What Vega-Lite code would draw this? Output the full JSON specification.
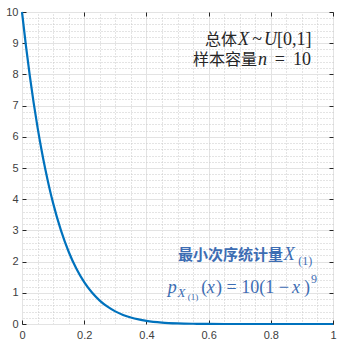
{
  "$schema": "https://vega.github.io/schema/vega-lite/v6.json",
  "width": 311,
  "height": 312,
  "autosize": {"type": "none"},
  "padding": {"left": 22, "top": 12, "right": 4, "bottom": 18},
  "background": "white",
  "config": {
    "view": {"stroke": "#262626", "strokeWidth": 1},
    "axis": {"labelFont": "Liberation Sans", "labelFontSize": 11, "labelColor": "#404040", "title": null}
  },
  "datasets": {
    "curve": [
      {"x": 0, "p": 10}, {"x": 0.0125, "p": 8.930}, {"x": 0.025, "p": 7.962}, {"x": 0.0375, "p": 7.089},
      {"x": 0.05, "p": 6.302}, {"x": 0.0625, "p": 5.594}, {"x": 0.075, "p": 4.958}, {"x": 0.0875, "p": 4.386},
      {"x": 0.1, "p": 3.874}, {"x": 0.125, "p": 3.007}, {"x": 0.15, "p": 2.316}, {"x": 0.175, "p": 1.771},
      {"x": 0.2, "p": 1.342}, {"x": 0.225, "p": 1.009}, {"x": 0.25, "p": 0.751}, {"x": 0.275, "p": 0.554},
      {"x": 0.3, "p": 0.404}, {"x": 0.325, "p": 0.291}, {"x": 0.35, "p": 0.207}, {"x": 0.375, "p": 0.146},
      {"x": 0.4, "p": 0.101}, {"x": 0.45, "p": 0.046}, {"x": 0.5, "p": 0.0195}, {"x": 0.55, "p": 0.0076},
      {"x": 0.6, "p": 0.0026}, {"x": 0.7, "p": 0.0002}, {"x": 0.8, "p": 0}, {"x": 0.9, "p": 0}, {"x": 1, "p": 0}
    ],
    "notes": [
      {"x": 0.691, "y": 9.10, "t": "总体", "k": "cjkR"},
      {"x": 0.6945, "y": 9.10, "t": "X", "k": "mathI"},
      {"x": 0.740, "y": 9.10, "t": "~", "k": "mathL"},
      {"x": 0.778, "y": 9.10, "t": "U", "k": "mathI"},
      {"x": 0.820, "y": 9.10, "t": "[0,1]", "k": "mathL"},
      {"x": 0.756, "y": 8.46, "t": "样本容量", "k": "cjkR"},
      {"x": 0.759, "y": 8.46, "t": "n", "k": "mathI"},
      {"x": 0.813, "y": 8.46, "t": "=", "k": "mathL"},
      {"x": 0.871, "y": 8.46, "t": "10", "k": "mathL"}
    ],
    "blue": [
      {"x": 0.839, "y": 2.21, "t": "最小次序统计量", "k": "cjkB"},
      {"x": 0.842, "y": 2.21, "t": "X", "k": "bI"},
      {"x": 0.888, "y": 2.02, "t": "(1)", "k": "bSub"},
      {"x": 0.469, "y": 1.15, "t": "p", "k": "bI"},
      {"x": 0.500, "y": 0.98, "t": "X", "k": "bSubI"},
      {"x": 0.533, "y": 0.86, "t": "(1)", "k": "bSubSub"},
      {"x": 0.576, "y": 1.15, "t": "(", "k": "bL"},
      {"x": 0.594, "y": 1.15, "t": "x", "k": "bI"},
      {"x": 0.624, "y": 1.15, "t": ") = 10(1 − ", "k": "bL"},
      {"x": 0.868, "y": 1.15, "t": "x", "k": "bI"},
      {"x": 0.907, "y": 1.15, "t": ")", "k": "bL"},
      {"x": 0.929, "y": 1.45, "t": "9", "k": "bSub"}
    ]
  },
  "layer": [
    {
      "data": {"name": "curve"},
      "mark": {"type": "line", "opacity": 0},
      "encoding": {
        "x": {"field": "x", "type": "quantitative", "scale": {"domain": [0, 1], "nice": false},
          "axis": {"orient": "top", "values": [0.05,0.1,0.15,0.25,0.3,0.35,0.45,0.5,0.55,0.65,0.7,0.75,0.85,0.9,0.95], "grid": true, "gridDash": [1, 2], "gridColor": "#c8c8c8", "gridWidth": 1, "labels": false, "ticks": false, "domain": false}},
        "y": {"field": "p", "type": "quantitative", "scale": {"domain": [0, 10], "nice": false},
          "axis": {"orient": "right", "values": [0.2,0.4,0.6,0.8,1.2,1.4,1.6,1.8,2.2,2.4,2.6,2.8,3.2,3.4,3.6,3.8,4.2,4.4,4.6,4.8,5.2,5.4,5.6,5.8,6.2,6.4,6.6,6.8,7.2,7.4,7.6,7.8,8.2,8.4,8.6,8.8,9.2,9.4,9.6,9.8], "grid": true, "gridDash": [1, 2], "gridColor": "#c8c8c8", "gridWidth": 1, "labels": false, "ticks": false, "domain": false}}
      }
    },
    {
      "data": {"name": "curve"},
      "mark": {"type": "line", "opacity": 0},
      "encoding": {
        "x": {"field": "x", "type": "quantitative", "scale": {"domain": [0, 1], "nice": false},
          "axis": {"orient": "top", "values": [0, 0.2, 0.4, 0.6, 0.8, 1], "grid": false, "labels": false, "ticks": true, "tickSize": -4, "tickColor": "#262626", "domain": false}},
        "y": {"field": "p", "type": "quantitative", "scale": {"domain": [0, 10], "nice": false},
          "axis": {"orient": "right", "values": [0,1,2,3,4,5,6,7,8,9,10], "grid": false, "labels": false, "ticks": true, "tickSize": -4, "tickColor": "#262626", "domain": false}}
      }
    },
    {
      "data": {"name": "curve"},
      "mark": {"type": "line", "color": "#0072BD", "strokeWidth": 2.2, "interpolate": "monotone"},
      "encoding": {
        "x": {"field": "x", "type": "quantitative", "scale": {"domain": [0, 1], "nice": false},
          "axis": {"orient": "bottom", "values": [0, 0.2, 0.4, 0.6, 0.8, 1], "format": "~r", "grid": true, "gridColor": "#e3e3e3", "gridWidth": 1, "tickSize": -4, "tickColor": "#262626", "labelPadding": 9, "domain": false, "labelFlush": false}},
        "y": {"field": "p", "type": "quantitative", "scale": {"domain": [0, 10], "nice": false},
          "axis": {"orient": "left", "values": [0,1,2,3,4,5,6,7,8,9,10], "grid": true, "gridColor": "#e3e3e3", "gridWidth": 1, "tickSize": -4, "tickColor": "#262626", "labelPadding": 8, "domain": false}}
      }
    },
    {
      "data": {"name": "notes"},
      "transform": [{"filter": "datum.k == 'cjkR'"}],
      "mark": {"type": "text", "align": "right", "baseline": "middle", "font": "Noto Sans CJK SC", "fontSize": 16, "color": "#262626"},
      "encoding": {"x": {"field": "x", "type": "quantitative", "axis": null}, "y": {"field": "y", "type": "quantitative", "axis": null}, "text": {"field": "t"}}
    },
    {
      "data": {"name": "notes"},
      "transform": [{"filter": "datum.k == 'mathI'"}],
      "mark": {"type": "text", "align": "left", "baseline": "middle", "font": "Liberation Serif", "fontStyle": "italic", "fontSize": 18, "color": "#262626"},
      "encoding": {"x": {"field": "x", "type": "quantitative", "axis": null}, "y": {"field": "y", "type": "quantitative", "axis": null}, "text": {"field": "t"}}
    },
    {
      "data": {"name": "notes"},
      "transform": [{"filter": "datum.k == 'mathL'"}],
      "mark": {"type": "text", "align": "left", "baseline": "middle", "font": "Liberation Serif", "fontSize": 18, "color": "#262626"},
      "encoding": {"x": {"field": "x", "type": "quantitative", "axis": null}, "y": {"field": "y", "type": "quantitative", "axis": null}, "text": {"field": "t"}}
    },
    {
      "data": {"name": "blue"},
      "transform": [{"filter": "datum.k == 'cjkB'"}],
      "mark": {"type": "text", "align": "right", "baseline": "middle", "font": "Noto Sans CJK SC", "fontWeight": "bold", "fontSize": 15, "color": "#3d6db3"},
      "encoding": {"x": {"field": "x", "type": "quantitative", "axis": null}, "y": {"field": "y", "type": "quantitative", "axis": null}, "text": {"field": "t"}}
    },
    {
      "data": {"name": "blue"},
      "transform": [{"filter": "datum.k == 'bI'"}],
      "mark": {"type": "text", "align": "left", "baseline": "middle", "font": "Liberation Serif", "fontStyle": "italic", "fontSize": 18, "color": "#3d6db3"},
      "encoding": {"x": {"field": "x", "type": "quantitative", "axis": null}, "y": {"field": "y", "type": "quantitative", "axis": null}, "text": {"field": "t"}}
    },
    {
      "data": {"name": "blue"},
      "transform": [{"filter": "datum.k == 'bL'"}],
      "mark": {"type": "text", "align": "left", "baseline": "middle", "font": "Liberation Serif", "fontSize": 18, "color": "#3d6db3"},
      "encoding": {"x": {"field": "x", "type": "quantitative", "axis": null}, "y": {"field": "y", "type": "quantitative", "axis": null}, "text": {"field": "t"}}
    },
    {
      "data": {"name": "blue"},
      "transform": [{"filter": "datum.k == 'bSub'"}],
      "mark": {"type": "text", "align": "left", "baseline": "middle", "font": "Liberation Serif", "fontSize": 12, "color": "#3d6db3"},
      "encoding": {"x": {"field": "x", "type": "quantitative", "axis": null}, "y": {"field": "y", "type": "quantitative", "axis": null}, "text": {"field": "t"}}
    },
    {
      "data": {"name": "blue"},
      "transform": [{"filter": "datum.k == 'bSubI'"}],
      "mark": {"type": "text", "align": "left", "baseline": "middle", "font": "Liberation Serif", "fontStyle": "italic", "fontSize": 13, "color": "#3d6db3"},
      "encoding": {"x": {"field": "x", "type": "quantitative", "axis": null}, "y": {"field": "y", "type": "quantitative", "axis": null}, "text": {"field": "t"}}
    },
    {
      "data": {"name": "blue"},
      "transform": [{"filter": "datum.k == 'bSubSub'"}],
      "mark": {"type": "text", "align": "left", "baseline": "middle", "font": "Liberation Serif", "fontSize": 9, "color": "#3d6db3"},
      "encoding": {"x": {"field": "x", "type": "quantitative", "axis": null}, "y": {"field": "y", "type": "quantitative", "axis": null}, "text": {"field": "t"}}
    }
  ],
  "resolve": {"axis": {"x": "independent", "y": "independent"}}
}
